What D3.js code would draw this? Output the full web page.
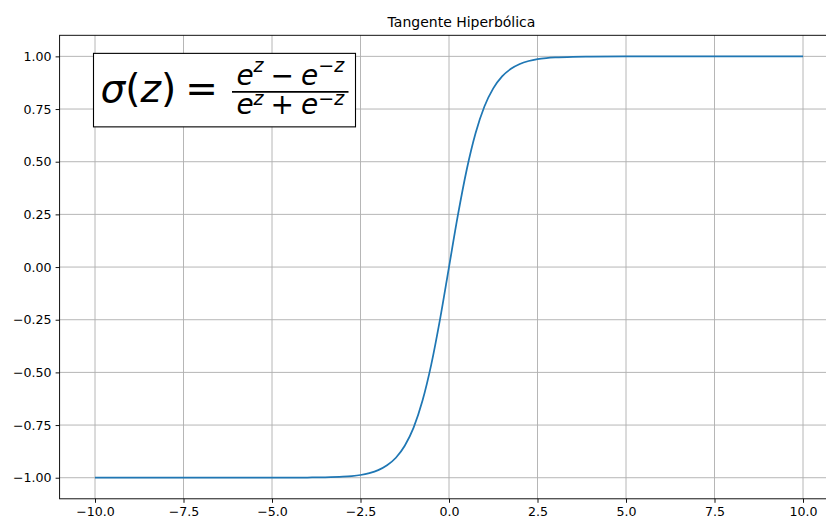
<!DOCTYPE html>
<html>
<head>
<meta charset="utf-8">
<script src="https://cdn.jsdelivr.net/npm/d3@7"></script>
<style>
  body { margin: 0; background: #fff; }
  svg text { font-family: "DejaVu Sans", sans-serif; fill: #000; }
</style>
</head>
<body>
<div id="tanhChart"></div>
<script>
// values
const xValues = [-10, -9, -8, -7, -6, -5, -4, -3.5, -3, -2.75, -2.5, -2.25, -2, -1.75, -1.5, -1.25, -1, -0.75, -0.5, -0.25,
                 0, 0.25, 0.5, 0.75, 1, 1.25, 1.5, 1.75, 2, 2.25, 2.5, 2.75, 3, 3.5, 4, 5, 6, 7, 8, 9, 10];
const yValues = [-1, -1, -1, -1, -1, -1, -0.999, -0.998, -0.995, -0.992, -0.987, -0.978, -0.964, -0.941, -0.905, -0.848, -0.762, -0.635, -0.462, -0.245,
                 0, 0.245, 0.462, 0.635, 0.762, 0.848, 0.905, 0.941, 0.964, 0.978, 0.987, 0.992, 0.995, 0.998, 0.999, 1, 1, 1, 1, 1, 1];
const xTicks = [-10, -7.5, -5, -2.5, 0, 2.5, 5, 7.5, 10];
const yTicks = [-1, -0.75, -0.5, -0.25, 0, 0.25, 0.5, 0.75, 1];
const chartTitle = "Tangente Hiperbólica";

const size = {
  width: 826,
  height: 523,
  margin: { top: 35.3, right: -12.4, bottom: 24.2, left: 59.6 }
};

const data = xValues.map((x, i) => ({ x: x, y: yValues[i] }));

const plotW = size.width - size.margin.left - size.margin.right;
const plotH = size.height - size.margin.top - size.margin.bottom;

const xScale = d3.scaleLinear().domain([-11, 11]).range([0, plotW]);
const yScale = d3.scaleLinear().domain([-1.1, 1.1]).range([plotH, 0]);

const minus = (s) => s.replace("-", "\u2212");

const svg = d3.select("#tanhChart")
  .append("svg")
  .attr("width", size.width)
  .attr("height", size.height);

svg.append("rect").attr("width", size.width).attr("height", size.height).attr("fill", "#fff");

const g = svg.append("g")
  .attr("transform", `translate(${size.margin.left}, ${size.margin.top})`);

// grid
g.append("g").selectAll("line").data(xTicks).enter().append("line")
  .attr("x1", d => xScale(d)).attr("x2", d => xScale(d))
  .attr("y1", 0).attr("y2", plotH)
  .attr("stroke", "#b0b0b0").attr("stroke-width", 0.93);
g.append("g").selectAll("line").data(yTicks).enter().append("line")
  .attr("x1", 0).attr("x2", plotW)
  .attr("y1", d => yScale(d)).attr("y2", d => yScale(d))
  .attr("stroke", "#b0b0b0").attr("stroke-width", 0.93);

// curve
const valueline = d3.line()
  .x(d => xScale(d.x))
  .y(d => yScale(d.y))
  .curve(d3.curveMonotoneX);

g.append("path")
  .attr("d", valueline(data))
  .attr("fill", "none")
  .attr("stroke", "#1f77b4")
  .attr("stroke-width", 1.75);

// spines
g.append("rect")
  .attr("width", plotW).attr("height", plotH)
  .attr("fill", "none").attr("stroke", "#000").attr("stroke-width", 0.93);

// X axis
const xAxis = g.append("g")
  .attr("transform", `translate(0, ${plotH})`)
  .call(d3.axisBottom(xScale).tickValues(xTicks).tickSize(4).tickPadding(4)
    .tickFormat(d => minus(d3.format(".1f")(d))));

// Y axis
const yAxis = g.append("g")
  .call(d3.axisLeft(yScale).tickValues(yTicks).tickSize(4).tickPadding(4)
    .tickFormat(d => minus(d3.format(".2f")(d))));

[xAxis, yAxis].forEach(ax => {
  ax.select(".domain").remove();
  ax.selectAll(".tick line").attr("stroke", "#000").attr("stroke-width", 0.93);
  ax.selectAll(".tick text").attr("font-size", 12.6).attr("font-family", "DejaVu Sans").attr("fill", "#000");
});

// title
svg.append("text")
  .attr("x", 461.5)
  .attr("y", 27)
  .attr("text-anchor", "middle")
  .attr("font-size", 14)
  .text(chartTitle);

// formula box
const fx = xScale(-10) + size.margin.left - 1.5;
const fy = yScale(1) + size.margin.top - 3;
const formula = svg.append("g").attr("transform", `translate(${fx}, ${fy})`);

formula.append("rect")
  .attr("width", 262).attr("height", 73.5)
  .attr("fill", "#fff").attr("stroke", "#000").attr("stroke-width", 1.1);

formula.append("text")
  .attr("x", 7).attr("y", 49)
  .attr("font-size", 39)
  .call(t => {
    t.append("tspan").attr("font-style", "italic").text("\u03c3");
    t.append("tspan").text("(");
    t.append("tspan").attr("font-style", "italic").text("z");
    t.append("tspan").text(")");
    t.append("tspan").attr("dx", 9).text("=");
  });

formula.append("line")
  .attr("x1", 138.5).attr("x2", 255)
  .attr("y1", 38.5).attr("y2", 38.5)
  .attr("stroke", "#000").attr("stroke-width", 1.6);

function fracRow(y, op, lift) {
  const t = formula.append("text").attr("x", 196.8).attr("y", y)
    .attr("text-anchor", "middle").attr("font-size", 28);
  t.append("tspan").attr("font-style", "italic").text("e");
  t.append("tspan").attr("font-style", "italic").attr("font-size", 19).attr("dy", -lift).text("z");
  t.append("tspan").attr("dy", lift).attr("dx", 7).text(op);
  t.append("tspan").attr("dx", 7).attr("font-style", "italic").text("e");
  t.append("tspan").attr("font-size", 19).attr("dy", -lift).text("\u2212");
  t.append("tspan").attr("font-style", "italic").attr("font-size", 19).text("z");
}
fracRow(31.7, "\u2212", 13);
fracRow(60.7, "+", 9);
</script>
</body>
</html>
